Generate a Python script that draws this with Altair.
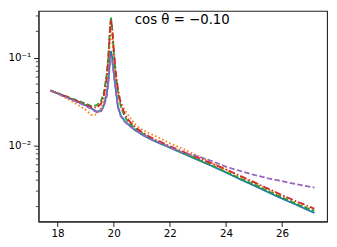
import altair as alt
import pandas as pd

x = [17.75, 18.0, 18.5, 19.0, 19.2, 19.4, 19.55, 19.65, 19.75, 19.82, 19.87, 19.9, 19.94,
     20.0, 20.07, 20.15, 20.25, 20.4, 20.55, 20.75, 21.0, 21.25, 21.5, 22.0, 22.5, 23.0,
     23.5, 24.0, 24.5, 25.0, 25.5, 26.0, 26.5, 27.15]

s_blue = [0.0423, 0.0392, 0.0336, 0.0287, 0.0265, 0.0243, 0.0250, 0.0285, 0.038, 0.060, 0.100,
          0.119, 0.105, 0.070, 0.045, 0.028, 0.022, 0.0188, 0.0170, 0.0150, 0.0133, 0.0120,
          0.0110, 0.0094, 0.0080, 0.0068, 0.0058, 0.0049, 0.0041, 0.00347, 0.00292, 0.00246,
          0.0021, 0.00169]
s_orange = [0.0423, 0.0388, 0.0320, 0.0255, 0.0222, 0.0225, 0.027, 0.033, 0.050, 0.090, 0.160,
            0.20, 0.17, 0.10, 0.060, 0.040, 0.031, 0.0251, 0.0215, 0.0175, 0.0152, 0.0138,
            0.0127, 0.0106, 0.0090, 0.0076, 0.0063, 0.0053, 0.0044, 0.0037, 0.0031, 0.00262,
            0.0022, 0.0018]
s_green = [0.0423, 0.0395, 0.0345, 0.0300, 0.0280, 0.0288, 0.032, 0.040, 0.065, 0.120, 0.230,
           0.290, 0.230, 0.120, 0.065, 0.040, 0.028, 0.021, 0.0180, 0.0158, 0.0138, 0.0123,
           0.0112, 0.0095, 0.0081, 0.0069, 0.0059, 0.0050, 0.0042, 0.0036, 0.0030, 0.00255,
           0.00215, 0.00178]
s_red = [0.0423, 0.0393, 0.0340, 0.0292, 0.0272, 0.0270, 0.030, 0.037, 0.058, 0.110, 0.210,
         0.270, 0.230, 0.130, 0.070, 0.045, 0.030, 0.0225, 0.0190, 0.0163, 0.0142, 0.0127,
         0.0116, 0.0098, 0.0084, 0.0072, 0.0062, 0.0053, 0.0045, 0.0038, 0.0032, 0.0027,
         0.0023, 0.00189]
s_purple = [0.0420, 0.0390, 0.0333, 0.0283, 0.0260, 0.0238, 0.0245, 0.028, 0.036, 0.055, 0.090,
            0.105, 0.095, 0.065, 0.042, 0.027, 0.0215, 0.0185, 0.0168, 0.0150, 0.0134, 0.0121,
            0.0111, 0.0095, 0.0082, 0.0075, 0.0066, 0.0057, 0.0051, 0.0046, 0.0042, 0.0039,
            0.0036, 0.0033]

series_names = ["s1", "s2", "s3", "s4", "s5"]
series_vals = [s_blue, s_orange, s_green, s_red, s_purple]
colors = ["#1f77b4", "#ff7f0e", "#2ca02c", "#d62728", "#9467bd"]
dashes = [[1, 0], [1.6, 2.4], [5.5, 2.4], [7, 2.2, 1.5, 2.2], [5.5, 2.4]]

x_ticks = [18, 20, 22, 24, 26]
y_major = [0.01, 0.1]
y_minor = [0.002, 0.003, 0.004, 0.005, 0.006, 0.007, 0.008, 0.009,
           0.02, 0.03, 0.04, 0.05, 0.06, 0.07, 0.08, 0.09, 0.2, 0.3]
label_text = "cos θ = −0.10"

x_dom = [17.322, 27.60]
y_dom = [0.00135, 0.3436]

FONT = "DejaVu Sans"

xs = alt.Scale(domain=x_dom, nice=False, zero=False)
ys = alt.Scale(type="log", domain=y_dom, nice=False)

layers = []
for i, (name, vals) in enumerate(zip(series_names, series_vals)):
    df = pd.DataFrame({"x": x, "y": vals})
    enc = dict(
        x=alt.X("x:Q", scale=xs,
                axis=alt.Axis(values=x_ticks, title=None, grid=False, tickSize=5,
                              labelFontSize=10.5, labelFont=FONT, labelColor="#000",
                              labelPadding=2, domainColor="#222", tickColor="#222",
                              labelFlush=False)),
        y=alt.Y("y:Q", scale=ys,
                axis=alt.Axis(values=y_major, title=None, grid=False, tickSize=5,
                              labelExpr="datum.value >= 0.05 ? '10⁻¹' : '10⁻²'",
                              labelFontSize=10.5, labelFont=FONT, labelColor="#000",
                              labelPadding=3, domainColor="#222", tickColor="#222")),
    )
    layers.append(
        alt.Chart(df).mark_line(color=colors[i], strokeWidth=1.8, strokeDash=dashes[i],
                                clip=True).encode(**enc)
    )

minor = alt.Chart(pd.DataFrame({"v": y_minor})).mark_rule(color="#222", strokeWidth=0.8).encode(
    y=alt.Y("v:Q", scale=ys),
    x=alt.value(-2.8),
    x2=alt.value(0),
)
layers.append(minor)

txt = alt.Chart(pd.DataFrame({"t": [label_text]})).mark_text(
    font=FONT, fontSize=13.5, align="center", baseline="alphabetic", color="#000"
).encode(text="t:N", x=alt.value(146), y=alt.value(13))
layers.append(txt)

chart = alt.layer(*layers).properties(
    width=293, height=214,
    background="white",
    autosize=alt.AutoSizeParams(type="none"),
    padding={"left": 31, "top": 1, "right": 2, "bottom": 20},
).configure_view(stroke="#222", strokeWidth=1.1, strokeOpacity=1)

chart.save("out.html", embed_options={"renderer": "svg", "actions": False})
